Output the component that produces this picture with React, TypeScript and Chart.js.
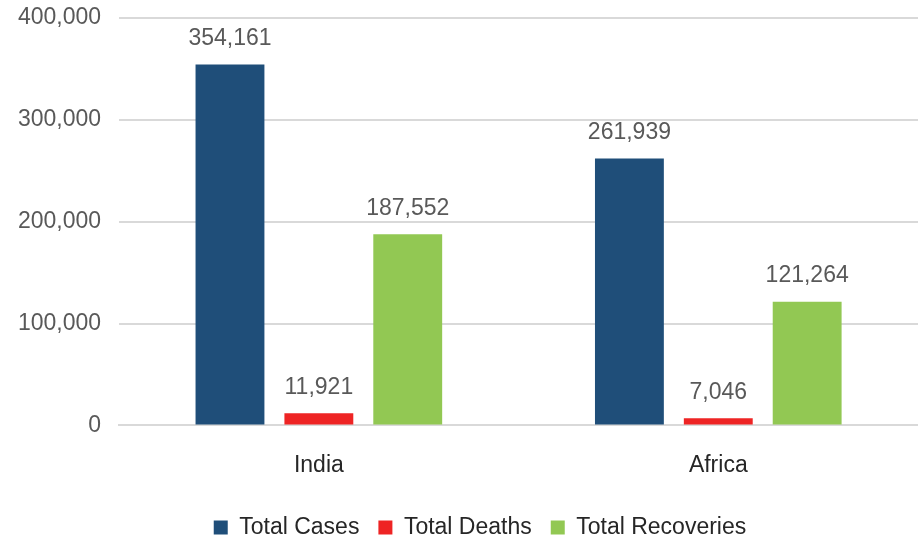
import React, { useEffect, useRef } from "react";
import { Chart, registerables } from "chart.js";

Chart.register(...registerables);

const categories = ["India", "Africa"];
const totalCases = [354161, 261939];
const totalDeaths = [11921, 7046];
const totalRecoveries = [187552, 121264];
const seriesNames = ["Total Cases", "Total Deaths", "Total Recoveries"];
const seriesColors = ["#1F4E79", "#EE2424", "#92C853"];

const FONT = "'Liberation Sans', Arial, sans-serif";

const dataLabelPlugin = {
  id: "dataLabels",
  afterDatasetsDraw(chart: any) {
    const ctx = chart.ctx;
    ctx.save();
    ctx.font = `23px ${FONT}`;
    ctx.fillStyle = "#595959";
    ctx.textAlign = "center";
    ctx.textBaseline = "middle";
    chart.data.datasets.forEach((ds: any, i: number) => {
      const meta = chart.getDatasetMeta(i);
      meta.data.forEach((bar: any, j: number) => {
        const v = ds.data[j] as number;
        ctx.fillText(v.toLocaleString("en-US"), bar.x, bar.y - 26);
      });
    });
    ctx.restore();
  },
};

const legendShiftPlugin = {
  id: "legendShift",
  afterLayout(chart: any) {
    const lg = chart.legend;
    if (lg) {
      lg.left += 21;
      lg.right += 21;
    }
  },
};

export default function App() {
  const ref = useRef<HTMLCanvasElement>(null);
  useEffect(() => {
    document.body.style.margin = "0";
    const chart = new Chart(ref.current!, {
      type: "bar",
      data: {
        labels: categories,
        datasets: [
          { label: seriesNames[0], data: totalCases, backgroundColor: seriesColors[0] },
          { label: seriesNames[1], data: totalDeaths, backgroundColor: seriesColors[1] },
          { label: seriesNames[2], data: totalRecoveries, backgroundColor: seriesColors[2] },
        ],
      },
      options: {
        animation: false,
        responsive: false,
        devicePixelRatio: 1,
        layout: { padding: { left: 0, right: 0, top: 0, bottom: 0 } },
        datasets: { bar: { categoryPercentage: 0.6675, barPercentage: 0.775 } },
        scales: {
          x: {
            grid: { display: false },
            border: { display: true, color: "#D9D9D9", width: 2 },
            ticks: { color: "#262626", font: { family: FONT, size: 23 }, padding: 18 },
          },
          y: {
            min: 0,
            max: 400000,
            ticks: {
              stepSize: 100000,
              color: "#595959",
              font: { family: FONT, size: 23 },
              padding: 18,
              callback: (v: any) => Number(v).toLocaleString("en-US"),
            },
            grid: { color: "#D9D9D9", lineWidth: 2, drawTicks: false },
            border: { display: false },
          },
        },
        plugins: {
          legend: {
            position: "bottom",
            labels: {
              color: "#262626",
              font: { family: FONT, size: 23 },
              boxWidth: 14,
              boxHeight: 14,
              padding: 19,
            },
          },
          tooltip: { enabled: false },
        },
      },
      plugins: [dataLabelPlugin, legendShiftPlugin],
    });
    return () => chart.destroy();
  }, []);
  return (
    <div style={{ position: "fixed", left: 0, top: 0, width: 918, height: 537, overflow: "hidden" }}>
      <canvas
        ref={ref}
        width={918}
        height={563}
        style={{ position: "absolute", left: 0, top: -14, width: 918, height: 563 }}
      />
    </div>
  );
}
